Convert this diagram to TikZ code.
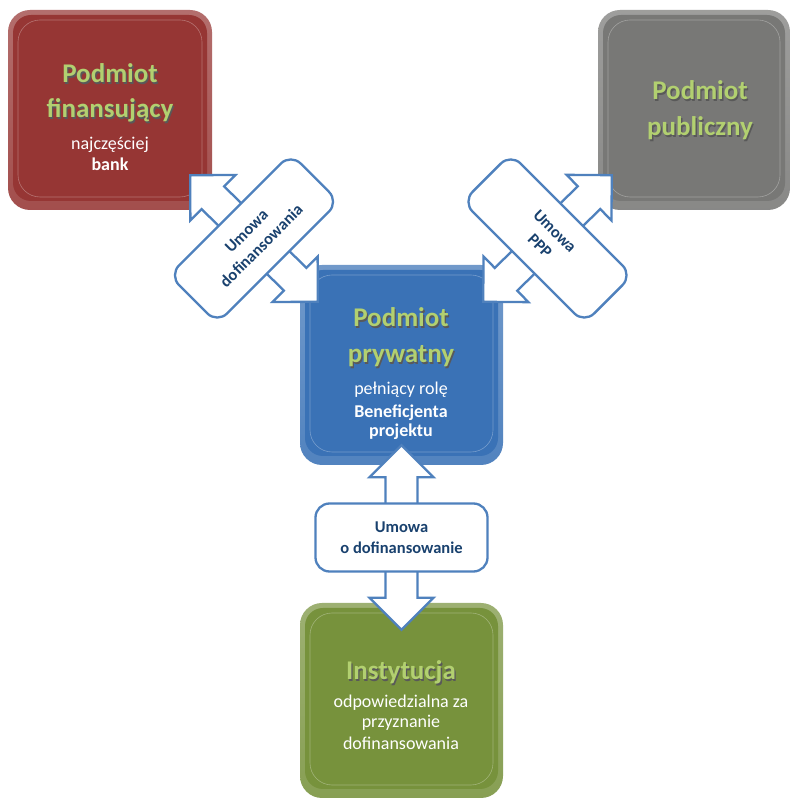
\documentclass[tikz,border=0pt]{standalone}
\usepackage{fontspec}
\setmainfont{Carlito}
\usetikzlibrary{calc}

\definecolor{finred}{RGB}{150,54,52}
\definecolor{pubgray}{RGB}{120,120,118}
\definecolor{prywblue}{RGB}{58,114,182}
\definecolor{instgreen}{RGB}{119,146,60}
\definecolor{titlegreen}{RGB}{178,208,112}
\definecolor{arrowblue}{RGB}{79,129,189}
\definecolor{labelblue}{RGB}{25,65,110}

\newcommand{\shd}[1]{\rlap{\kern1.3pt\raisebox{-1.4pt}{\textcolor{black!65}{#1}}}#1}
\newcommand{\arrhead}{32pt}
\newcommand{\arrwide}{32pt}
\newcommand{\arrshaft}{16pt}
% double block arrow between two named points
\newcommand{\dblarrow}[2]{%
  \draw[bigarrow] (#1)
    -- ($(#1)!\arrhead!(#2)!\arrwide!90:(#2)$)
    -- ($(#1)!\arrhead!(#2)!\arrshaft!90:(#2)$)
    -- ($(#2)!\arrhead!(#1)!\arrshaft!-90:(#1)$)
    -- ($(#2)!\arrhead!(#1)!\arrwide!-90:(#1)$)
    -- (#2)
    -- ($(#2)!\arrhead!(#1)!\arrwide!90:(#1)$)
    -- ($(#2)!\arrhead!(#1)!\arrshaft!90:(#1)$)
    -- ($(#1)!\arrhead!(#2)!\arrshaft!-90:(#2)$)
    -- ($(#1)!\arrhead!(#2)!\arrwide!-90:(#2)$)
    -- cycle;}

\tikzset{
  panel/.style={rounded corners=22, inner sep=0,
    top color=#1!72!white, bottom color=#1!88!white,
    path picture={
      \fill[#1, rounded corners=18] ([shift={(5,9)}]path picture bounding box.south west)
        rectangle ([shift={(-5,-5)}]path picture bounding box.north east);
      \draw[white, opacity=0.3, line width=0.6] ([shift={(10,13)}]path picture bounding box.south west)
        rectangle ([shift={(-10,-10)}]path picture bounding box.north east);}},
  ttl/.style={anchor=base, inner sep=0, text=titlegreen, font=\fontsize{27}{32}\selectfont\bfseries},
  sub/.style={anchor=base, inner sep=0, text=white, font=\fontsize{18}{21}\selectfont},
  subb/.style={sub, font=\fontsize{18}{21}\selectfont\bfseries},
  deal/.style={draw=arrowblue, fill=white, line width=2.3, rounded corners=14,
    minimum width=172, minimum height=68, align=center, text=labelblue,
    font=\fontsize{16.5}{21}\selectfont\bfseries},
  bigarrow/.style={draw=arrowblue, fill=white, line width=2.3, line join=miter}
}

\begin{document}
\begin{tikzpicture}[x=1pt,y=1pt]
\fill[white] (0,0) rectangle (790,800);
\useasboundingbox (0,0) rectangle (790,800);

\node[panel=finred, minimum width=204, minimum height=200] (fin) at (110,690) {};
\node[panel=pubgray, minimum width=192, minimum height=200] (pub) at (694,690) {};
\node[panel=prywblue, minimum width=203, minimum height=200] (pryw) at (401.5,435) {};
\node[panel=instgreen, minimum width=203, minimum height=195] (inst) at (401.5,99.5) {};

\node[ttl] (fin1) at (110,717) {\shd{Podmiot}};
\node[ttl] (fin2) at (110,682) {\shd{finansujący}};
\node[sub] (fin3) at (110,650) {najczęściej};
\node[subb] (fin4) at (110,629) {bank};

\node[ttl] (pub1) at (700,700) {\shd{Podmiot}};
\node[ttl] (pub2) at (700,664) {\shd{publiczny}};

\node[ttl] (pryw1) at (401,473) {\shd{Podmiot}};
\node[ttl] (pryw2) at (401,437) {\shd{prywatny}};
\node[sub] (pryw3) at (401,405) {pełniący rolę};
\node[subb] (pryw4) at (401,382) {Beneficjenta};
\node[subb] (pryw5) at (401,363) {projektu};

\node[ttl] (inst1) at (401,120) {\shd{Instytucja}};
\node[sub] (inst2) at (401,92) {odpowiedzialna za};
\node[sub] (inst3) at (401,72) {przyznanie};
\node[sub] (inst4) at (401,50) {dofinansowania};

\coordinate (a1) at ($(fin.south east)+(-22,35)$);
\coordinate (a2) at ($(pryw.north west)+(18,-37)$);
\coordinate (b1) at ($(pub.south west)+(14,35)$);
\coordinate (b2) at ($(pryw.north east)+(-20,-37)$);
\coordinate (c1) at ($(pryw.south)+(0,20)$);
\coordinate (c2) at ($(inst.north)+(0,-27)$);

\dblarrow{a1}{a2}
\dblarrow{b1}{b2}
\dblarrow{c1}{c2}

\node[deal, rotate=45] (deal1) at ($(a1)!0.5!(a2)$) {Umowa\\dofinansowania};
\node[deal, rotate=-45] (deal2) at ($(b1)!0.5!(b2)$) {Umowa\\PPP};
\node[deal] (deal3) at ($(c1)!0.5!(c2)$) {Umowa\\o dofinansowanie};
\end{tikzpicture}
\end{document}
